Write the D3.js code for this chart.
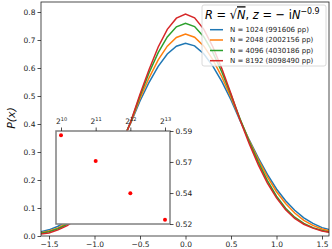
<!DOCTYPE html>
<html>
<head>
<meta charset="utf-8">
<script src="https://cdn.jsdelivr.net/npm/d3@7"></script>
<style>
  body { margin: 0; background: #fff; }
  svg { display: block; font-family: "DejaVu Sans", sans-serif; }
</style>
</head>
<body>
<svg id="chart" width="332" height="249"></svg>
<script>
// ── Data ──────────────────────────────────────────────────────────
var xs = [-1.6, -1.5, -1.4, -1.3, -1.2, -1.1, -1.0, -0.9, -0.8, -0.7, -0.6, -0.5, -0.4, -0.3, -0.2, -0.1,
  0.0, 0.1, 0.2, 0.3, 0.4, 0.5, 0.6, 0.7, 0.8, 0.9, 1.0, 1.1, 1.2, 1.3, 1.4, 1.5, 1.6];

var p1024 = [0.014, 0.022, 0.035, 0.054, 0.082, 0.118, 0.160, 0.212, 0.272, 0.338, 0.405, 0.482, 0.549, 0.606, 0.650, 0.678,
  0.688, 0.679, 0.651, 0.607, 0.551, 0.486, 0.412, 0.343, 0.279, 0.220, 0.168, 0.126, 0.092, 0.065, 0.045, 0.030, 0.021];
var p2048 = [0.011, 0.018, 0.029, 0.047, 0.073, 0.109, 0.152, 0.204, 0.266, 0.334, 0.406, 0.491, 0.565, 0.629, 0.678, 0.709,
  0.721, 0.710, 0.679, 0.630, 0.568, 0.495, 0.416, 0.341, 0.273, 0.211, 0.158, 0.116, 0.082, 0.056, 0.038, 0.025, 0.017];
var p4096 = [0.009, 0.015, 0.026, 0.042, 0.065, 0.098, 0.140, 0.194, 0.260, 0.332, 0.410, 0.500, 0.583, 0.655, 0.711, 0.747,
  0.760, 0.748, 0.712, 0.656, 0.585, 0.504, 0.418, 0.337, 0.264, 0.198, 0.142, 0.099, 0.067, 0.045, 0.030, 0.020, 0.013];
var p8192 = [0.007, 0.011, 0.022, 0.037, 0.059, 0.090, 0.132, 0.186, 0.253, 0.328, 0.410, 0.506, 0.595, 0.675, 0.738, 0.778,
  0.793, 0.779, 0.739, 0.676, 0.597, 0.508, 0.413, 0.330, 0.254, 0.189, 0.136, 0.094, 0.063, 0.042, 0.028, 0.018, 0.012];

var seriesNames = ["N = 1024 (991606 pp)", "N = 2048 (2002156 pp)", "N = 4096 (4030186 pp)", "N = 8192 (8098490 pp)"];
var seriesValues = [p1024, p2048, p4096, p8192];
var colors = ["#1f77b4", "#ff7f0e", "#2ca02c", "#d62728"];

var xTicks = [-1.5, -1.0, -0.5, 0.0, 0.5, 1.0, 1.5];
var yTicks = [0.0, 0.1, 0.2, 0.3, 0.4, 0.5, 0.6, 0.7, 0.8];

// inset: peak height vs N
var insetN = [1024, 2048, 4096, 8192];
var insetPeak = [0.587, 0.5677, 0.5433, 0.5234];
var insetXTicks = [10, 11, 12, 13];
var insetYTicks = [0.5202, 0.5435, 0.5669, 0.5902];

// ── Layout ────────────────────────────────────────────────────────
var svg = d3.select("#chart");
var M = { left: 41, top: 2, right: 329, bottom: 236 };

var x = d3.scaleLinear().domain([-1.5, 1.5]).range([49, 322]);
var y = d3.scaleLinear().domain([0, 0.8]).range([236, 12]);

svg.append("defs").append("clipPath").attr("id", "plot-clip")
  .append("rect")
  .attr("x", M.left).attr("y", M.top)
  .attr("width", M.right - M.left).attr("height", M.bottom - M.top);

// ── Curves ────────────────────────────────────────────────────────
var line = d3.line()
  .x(function (d) { return x(d[0]); })
  .y(function (d) { return y(d[1]); });

var curves = svg.append("g").attr("clip-path", "url(#plot-clip)");
seriesValues.forEach(function (vals, i) {
  curves.append("path")
    .datum(xs.map(function (v, j) { return [v, vals[j]]; }))
    .attr("d", line)
    .attr("fill", "none")
    .attr("stroke", colors[i])
    .attr("stroke-width", 1.5);
});

// ── Main axes ─────────────────────────────────────────────────────
var xAxis = svg.append("g")
  .attr("transform", "translate(0," + M.bottom + ")")
  .call(d3.axisBottom(x).tickValues(xTicks).tickSize(3.5).tickPadding(2)
    .tickFormat(function (d) { return d3.format(".1f")(d).replace("-", "\u2212"); }));

var yAxis = svg.append("g")
  .attr("transform", "translate(" + M.left + ",0)")
  .call(d3.axisLeft(y).tickValues(yTicks).tickSize(3.5).tickPadding(2)
    .tickFormat(d3.format(".1f")));

[xAxis, yAxis].forEach(function (ax) {
  ax.select(".domain").remove();
  ax.selectAll("text").attr("font-size", 7.5).attr("fill", "#222").attr("font-family", "DejaVu Sans");
  ax.selectAll("line").attr("stroke", "#222").attr("stroke-width", 0.8);
});

svg.append("rect")
  .attr("x", M.left).attr("y", M.top)
  .attr("width", M.right - M.left).attr("height", M.bottom - M.top)
  .attr("fill", "none").attr("stroke", "#222").attr("stroke-width", 0.8);

svg.append("text")
  .attr("transform", "translate(15,118) rotate(-90)")
  .attr("text-anchor", "middle")
  .attr("font-size", 11)
  .attr("font-style", "italic")
  .attr("fill", "#111")
  .text("P(x)");

// ── Inset ─────────────────────────────────────────────────────────
var I = { left: 56, top: 131, right: 170, bottom: 224 };
var ix = d3.scaleLinear().domain([10, 13]).range([61, 165]);
var iy = d3.scaleLinear().domain([0.5202, 0.5902]).range([I.bottom, I.top]);

svg.append("rect")
  .attr("x", I.left).attr("y", I.top)
  .attr("width", I.right - I.left).attr("height", I.bottom - I.top)
  .attr("fill", "#fff").attr("stroke", "#808080").attr("stroke-width", 1.5);

svg.append("g").selectAll("circle")
  .data(insetN)
  .enter().append("circle")
  .attr("cx", function (d) { return ix(Math.log2(d)); })
  .attr("cy", function (d, i) { return iy(insetPeak[i]); })
  .attr("r", 2)
  .attr("fill", "#ff0000");

var ixAxis = svg.append("g")
  .attr("transform", "translate(0," + I.top + ")")
  .call(d3.axisTop(ix).tickValues(insetXTicks).tickSize(3.5).tickFormat(""));
ixAxis.selectAll(".tick").append("text")
  .attr("y", -7)
  .attr("text-anchor", "middle")
  .attr("fill", "#222")
  .attr("font-size", 7.5)
  .each(function (d) {
    var t = d3.select(this);
    t.append("tspan").text("2");
    t.append("tspan").attr("font-size", 5).attr("dy", -3.5).text(d);
  });

var iyAxis = svg.append("g")
  .attr("transform", "translate(" + I.right + ",0)")
  .call(d3.axisRight(iy).tickValues(insetYTicks).tickSize(3.5).tickPadding(2)
    .tickFormat(d3.format(".2f")));

[ixAxis, iyAxis].forEach(function (ax) {
  ax.select(".domain").remove();
  ax.selectAll("text").attr("font-family", "DejaVu Sans").attr("fill", "#222");
  ax.selectAll("line").attr("stroke", "#222").attr("stroke-width", 0.8);
});
iyAxis.selectAll("text").attr("font-size", 7.5);

// ── Legend ────────────────────────────────────────────────────────
var legend = svg.append("g");
legend.append("rect")
  .attr("x", 202).attr("y", 5).attr("width", 124).attr("height", 61)
  .attr("rx", 2)
  .attr("fill", "rgba(255,255,255,0.8)")
  .attr("stroke", "#d0d0d0").attr("stroke-width", 0.8);

var title = legend.append("text")
  .attr("x", 205).attr("y", 19)
  .attr("font-size", 13)
  .attr("fill", "#000");
title.append("tspan").attr("font-style", "italic").text("R");
title.append("tspan").text(" = \u221A");
title.append("tspan").attr("font-style", "italic").attr("text-decoration", "overline").text("N");
title.append("tspan").text(", ");
title.append("tspan").attr("font-style", "italic").text("z");
title.append("tspan").text(" = \u2212 i");
title.append("tspan").attr("font-style", "italic").text("N");
title.append("tspan").attr("font-size", 9).attr("dy", -5).text("\u22120.9");

// shrink the title so it spans the same width as in the reference
var titleW = title.node().getBBox().width;
if (titleW > 115) {
  title.attr("transform", "translate(205,0) scale(" + (115 / titleW) + ",1) translate(-205,0)");
}

var rowY = [29.7, 40, 50.5, 60.7];
seriesNames.forEach(function (name, i) {
  legend.append("line")
    .attr("x1", 210).attr("x2", 223)
    .attr("y1", rowY[i]).attr("y2", rowY[i])
    .attr("stroke", colors[i]).attr("stroke-width", 1.5);
  legend.append("text")
    .attr("x", 230).attr("y", rowY[i])
    .attr("dy", "0.35em")
    .attr("font-size", 7)
    .attr("fill", "#222")
    .text(name);
});
</script>
</body>
</html>
